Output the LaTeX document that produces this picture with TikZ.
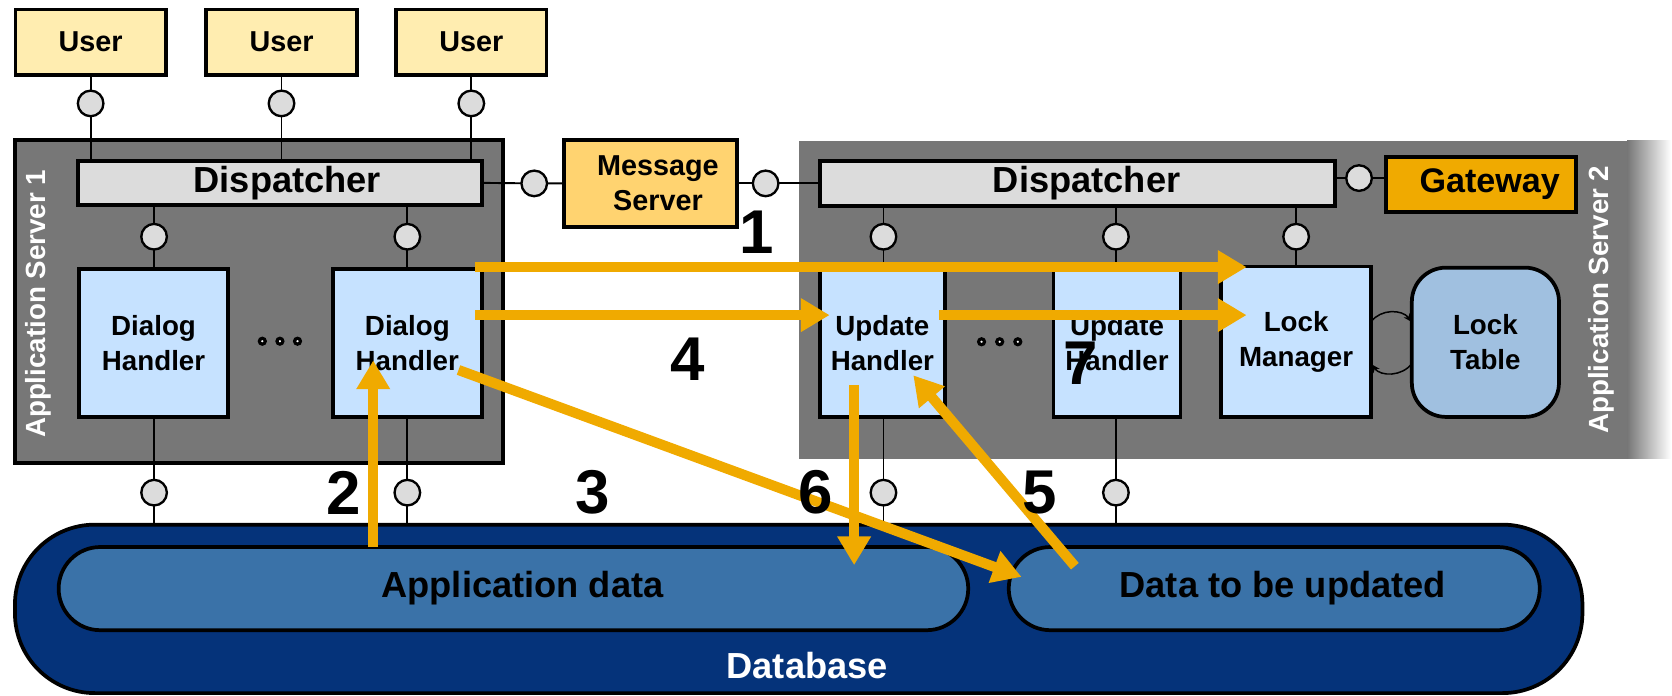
\documentclass[tikz,border=0pt]{standalone}
\usepackage{fontspec}
\setmainfont{Liberation Sans}
\usetikzlibrary{arrows.meta}
\pgfdeclarelayer{back}
\pgfdeclarelayer{wires}
\pgfsetlayers{back,wires,main}

\definecolor{userfill}{HTML}{FFEDB0}
\definecolor{msgfill}{HTML}{FFD370}
\definecolor{gwfill}{HTML}{F0AA00}
\definecolor{flowc}{HTML}{F0AA00}
\definecolor{dispfill}{HTML}{DCDCDC}
\definecolor{portfill}{HTML}{DCDCDC}
\definecolor{srvfill}{HTML}{777777}
\definecolor{hdlfill}{HTML}{C6E2FF}
\definecolor{ltfill}{HTML}{A0C0E0}
\definecolor{dbfill}{HTML}{05337A}
\definecolor{dbinner}{HTML}{3A72A8}

\newcommand\fsz[2]{\fontsize{#1}{#2}\selectfont\bfseries}

\begin{document}
\begin{tikzpicture}[x=1pt,y=-1pt,
  every node/.style={outer sep=0pt, inner sep=0pt},
  bx/.style={draw=black, line width=3.5pt, align=center},
  user/.style={bx, fill=userfill, minimum width=141pt, minimum height=61pt, font=\fsz{27}{32}},
  disp/.style={bx, fill=dispfill, minimum width=379pt, minimum height=41pt, font=\fsz{34}{36}},
  hdl/.style={bx, fill=hdlfill, minimum height=139pt, font=\fsz{26}{33}},
  port/.style={circle, draw=black, line width=2.2pt, fill=portfill, minimum size=24pt},
  conn/.style={draw=black, line width=1.8pt},
  ellip/.style={circle, draw=black, line width=3pt, fill=white, minimum size=5.5pt},
  flow/.style={draw=flowc, line width=9.5pt, -{Triangle[length=27pt,width=30pt]}},
  num/.style={font=\fsz{58}{60}},
  srvlabel/.style={rotate=90, text=white, font=\fsz{26}{30}},
  pill/.style={bx, fill=dbinner, minimum height=78pt, rounded corners=39pt, font=\fsz{34}{36}},
  lockarrow/.style={draw=black, line width=1.4pt, -{Stealth[length=8pt,width=7pt]}},
]
\useasboundingbox (0,0) rectangle (1568,652);

% application servers
\begin{pgfonlayer}{back}
  \node[draw=black, line width=3.5pt, fill=srvfill, minimum width=458pt, minimum height=303pt] (s1) at (243,282.5) {};
  \node[fill=srvfill, minimum width=777pt, minimum height=298pt] (s2) at (1137.5,281) {};
  \shade[left color=srvfill, right color=white] (s2.north east) rectangle ([xshift=41pt]s2.south east);
\end{pgfonlayer}
\node[srvlabel] (l1) at (36,285) {Application Server 1};
\node[srvlabel] (l2) at (1502,281) {Application Server 2};

% users
\node[user] (u1) at (85,39.5) {User};
\node[user] (u2) at (264,39.5) {User};
\node[user] (u3) at (442,39.5) {User};
\node[port] (pu1) at (85,97) {};
\node[port] (pu2) at (264,97) {};
\node[port] (pu3) at (442,97) {};

% server 1
\node[disp] (d1) at (262.5,171.5) {\hspace*{14pt}Dispatcher};
\node[port] (pa1) at (144.5,222) {};
\node[port] (pa2) at (382,222) {};
\node[hdl, minimum width=140pt] (dh1) at (144,321.5) {Dialog\\Handler};
\node[hdl, minimum width=140pt] (dh2) at (382,321.5) {Dialog\\Handler};
\node[ellip] (e1) at (246,320) {};
\node[ellip] (e2) at (262.5,320) {};
\node[ellip] (e3) at (279,320) {};
\node[port] (pb1) at (144.5,462) {};
\node[port] (pb2) at (382,462) {};

% message server
\node[bx, fill=msgfill, minimum width=162pt, minimum height=82pt, font=\fsz{27}{33}] (ms) at (610,172) {\hspace*{14pt}Message\\\hspace*{14pt}Server};
\node[port] (pm1) at (501,172) {};
\node[port] (pm2) at (718,172) {};

% server 2
\node[disp, minimum width=483pt, minimum height=42pt] (d2) at (1010.5,172) {\hspace*{17pt}Dispatcher};
\node[port] (pg) at (1274.5,167) {};
\node[bx, fill=gwfill, minimum width=178pt, minimum height=52pt, font=\fsz{32}{34}] (gw) at (1389,173) {\hspace*{16pt}Gateway};
\node[port] (pc1) at (828.5,222) {};
\node[port] (pc2) at (1046.5,222) {};
\node[port] (pc3) at (1215.5,222) {};
\node[hdl, minimum width=117pt, minimum height=138pt] (uh1) at (827.5,322) {Update\\Handler};
\node[hdl, minimum width=119pt, minimum height=138pt] (uh2) at (1047.5,322) {Update\\Handler};
\node[hdl, minimum width=141pt, minimum height=141pt] (lm) at (1215.5,320.5) {Lock\\Manager};
\node[hdl, fill=ltfill, rounded corners=32pt, minimum width=138pt, minimum height=140pt] (lt) at (1393,321) {Lock\\Table};
\node[ellip] (e4) at (920.5,320.5) {};
\node[ellip] (e5) at (937.5,320.5) {};
\node[ellip] (e6) at (954.5,320.5) {};
\node[port] (pd1) at (828.5,462) {};
\node[port] (pd2) at (1046.5,462) {};

% database
\node[bx, fill=dbfill, rounded corners=75pt, minimum width=1470pt, minimum height=158pt] (db) at (749,571) {};
\node[font=\fsz{34}{36}, text=white] (dbl) at (757,624) {Database};
\node[pill, minimum width=853pt] (ad) at (481.5,552) {\hspace*{17pt}Application data};
\node[pill, minimum width=498pt] (du) at (1195,552) {\hspace*{16pt}Data to be updated};

% interface wires
\begin{pgfonlayer}{wires}
  \draw[conn] (u1) -- (pu1) -- (pu1 |- d1.north);
  \draw[conn] (u2) -- (pu2) -- (pu2 |- d1.north);
  \draw[conn] (u3) -- (pu3) -- (pu3 |- d1.north);
  \draw[conn] (pa1 |- d1.south) -- (pa1) -- (pa1 |- dh1.north);
  \draw[conn] (pa2 |- d1.south) -- (pa2) -- (pa2 |- dh2.north);
  \draw[conn] (pb1 |- dh1.south) -- (pb1) -- (pb1 |- db.north);
  \draw[conn] (pb2 |- dh2.south) -- (pb2) -- (pb2 |- db.north);
  \draw[conn] (d1.east) -- (pm1) -- (ms.west);
  \draw[conn] (ms.east) -- (pm2) -- (d2.west);
  \draw[conn] (d2.east |- pg) -- (pg) -- (gw.west |- pg);
  \draw[conn] (pc1 |- d2.south) -- (pc1) -- (pc1 |- uh1.north);
  \draw[conn] (pc2 |- d2.south) -- (pc2) -- (pc2 |- uh2.north);
  \draw[conn] (pc3 |- d2.south) -- (pc3) -- (pc3 |- lm.north);
  \draw[conn] (pd1 |- uh1.south) -- (pd1) -- (pd1 |- db.north);
  \draw[conn] (pd2 |- uh2.south) -- (pd2) -- (pd2 |- db.north);
\end{pgfonlayer}

% lock manager <-> lock table
\draw[lockarrow] ([yshift=19pt]lm.east) .. controls +(9,-12) and +(-9,-12) .. ([yshift=19pt]lt.west);
\draw[lockarrow] ([yshift=-20pt]lt.west) .. controls +(-9,12) and +(9,12) .. ([yshift=-21pt]lm.east);

% update flow
\draw[flow] ([xshift=-6.5pt,yshift=1.5pt]dh2.north east) -- ([xshift=24pt,yshift=-0.5pt]lm.north west);
\draw[flow] ([xshift=-6.5pt,yshift=26pt]dh2.east) -- ([xshift=9pt,yshift=26.5pt]uh1.west);
\draw[flow] ([xshift=-5pt,yshift=26.5pt]uh1.east) -- ([xshift=24pt,yshift=25pt]lm.west);
\draw[flow] ([xshift=-131.5pt]ad.north) -- ([xshift=-32pt,yshift=-16.5pt]dh2.center);
\draw[flow] ([xshift=48pt,yshift=-25.5pt]dh2.center) -- ([xshift=12pt,yshift=11pt]du.west);
\draw[flow] ([xshift=-26.5pt,yshift=-39pt]uh1.center) -- ([xshift=-107pt,yshift=-17pt]ad.north east);
\draw[flow] ([xshift=62pt,yshift=-18pt]du.north west) -- ([xshift=29pt,yshift=-30pt]uh1.center);

% step numbers
\node[num] (n1) at (710,218) {1};
\node[num] (n2) at (322,462) {2};
\node[num] (n3) at (556,462) {3};
\node[num] (n4) at (645,337) {4};
\node[num] (n5) at (975,462) {5};
\node[num] (n6) at (765,462) {6};
\node[num] (n7) at (1013,341) {7};
\end{tikzpicture}
\end{document}
